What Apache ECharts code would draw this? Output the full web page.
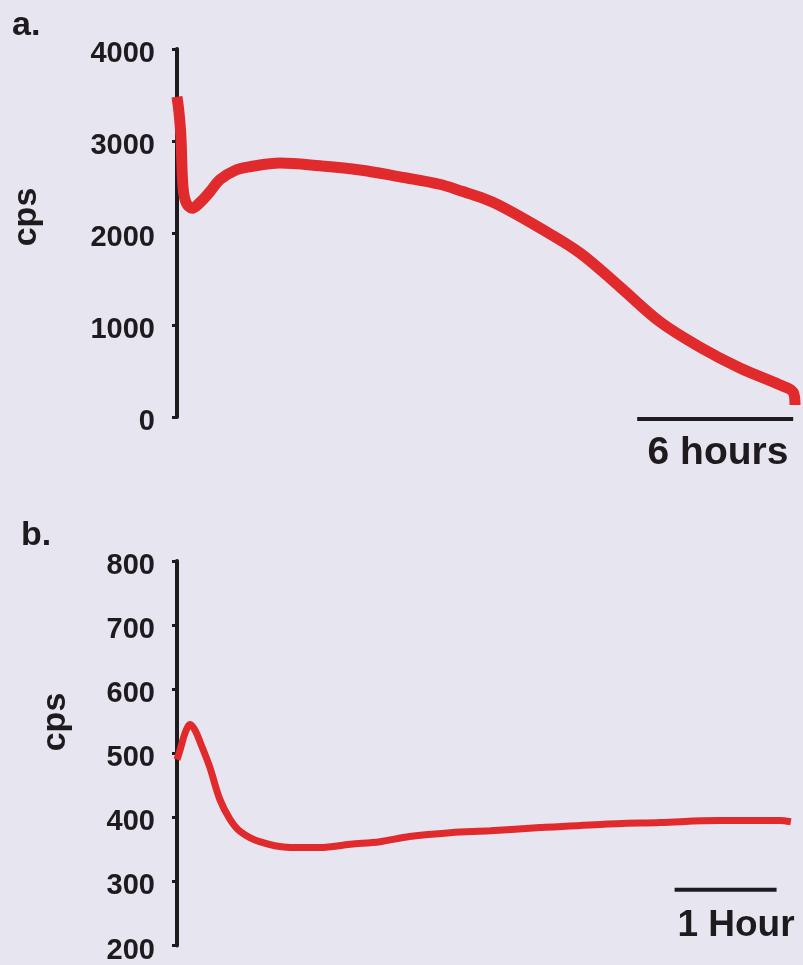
<!DOCTYPE html>
<html>
<head>
<meta charset="utf-8">
<script src="https://cdn.jsdelivr.net/npm/echarts@6/dist/echarts.min.js"></script>
<style>
  html, body { margin: 0; padding: 0; background: #e6e5f0; }
  #main { width: 803px; height: 965px; }
</style>
</head>
<body>
<div id="main"></div>
<script>
// panel a: ~24 h trace
var hoursA = [0, 0.08, 0.15, 0.23, 0.35, 0.58, 0.88, 1.27, 1.65, 2.23, 2.81, 3.96, 5.5, 7.04, 8.58, 10.1, 11.0, 11.65, 12.4, 13.96, 15.5, 17.04, 18.58, 20.1, 21.65, 23.2, 23.7, 23.77];
var cpsA = [3480, 3300, 3050, 2500, 2330, 2270, 2330, 2450, 2580, 2680, 2720, 2760, 2730, 2685, 2610, 2530, 2450, 2390, 2300, 2054, 1783, 1413, 1033, 761, 533, 348, 270, 130];
var ticksA = [0, 1000, 2000, 3000, 4000];

// panel b: ~6 h trace
var hoursB = [0, 0.03, 0.08, 0.13, 0.18, 0.23, 0.32, 0.42, 0.52, 0.62, 0.81, 1.11, 1.40, 1.70, 1.99, 2.28, 2.68, 3.07, 3.56, 4.15, 4.74, 5.32, 5.91, 6.02];
var cpsB = [490, 505, 532, 545, 535, 516, 479, 428, 397, 378, 362, 353, 353, 358, 362, 370, 376, 379, 384, 389, 392, 395, 395, 393];
var ticksB = [200, 300, 400, 500, 600, 700, 800];

// scale bars [start, end] in hours and the level they sit at
var barA = [17.7, 23.7], barAy = -22;
var barB = [4.88, 5.88], barBy = 287;

var ink = '#1f1a1d';
var red = '#e12a2b';
var font = '"Liberation Sans", Arial, sans-serif';

function pairs(xs, ys) {
    return xs.map(function (x, i) { return [x, ys[i]]; });
}

function yAx(idx, min, max, step) {
    return {
        type: 'value', gridIndex: idx, min: min, max: max, interval: step,
        axisLine: { show: true, lineStyle: { color: ink, width: 4 } },
        axisTick: { show: true, inside: false, length: 5, lineStyle: { color: ink, width: 3 } },
        splitLine: { show: false },
        axisLabel: {
            margin: 22,
            formatter: function (v) { return '{v|' + v + '}'; },
            rich: {
                v: { color: ink, fontFamily: font, fontWeight: 'bold', fontSize: 29, padding: [10, 0, 0, 0] }
            }
        }
    };
}

var chart = echarts.init(document.getElementById('main'));
var option = {
    backgroundColor: '#e6e5f0',
    animation: false,
    grid: [
        { left: 177, top: 49, width: 624, height: 368 },
        { left: 177, top: 561, width: 622, height: 385 }
    ],
    xAxis: [
        { type: 'value', gridIndex: 0, min: 0, max: 24, show: false },
        { type: 'value', gridIndex: 1, min: 0, max: 6.1, show: false }
    ],
    yAxis: [
        yAx(0, ticksA[0], ticksA[ticksA.length - 1], 1000),
        yAx(1, ticksB[0], ticksB[ticksB.length - 1], 100)
    ],
    series: [
        {
            type: 'line', xAxisIndex: 0, yAxisIndex: 0, data: pairs(hoursA, cpsA),
            showSymbol: false, smooth: 0.35, clip: false,
            lineStyle: { color: red, width: 11 }
        },
        {
            type: 'line', xAxisIndex: 1, yAxisIndex: 1, data: pairs(hoursB, cpsB),
            showSymbol: false, smooth: 0.35, clip: false,
            lineStyle: { color: red, width: 7 }
        }
    ]
};
chart.setOption(option);

var a0 = chart.convertToPixel({ gridIndex: 0 }, [barA[0], barAy]);
var a1 = chart.convertToPixel({ gridIndex: 0 }, [barA[1], barAy]);
var b0 = chart.convertToPixel({ gridIndex: 1 }, [barB[0], barBy]);
var b1 = chart.convertToPixel({ gridIndex: 1 }, [barB[1], barBy]);

function txt(x, y, s, size, align, rot) {
    return {
        type: 'text', x: x, y: y, rotation: rot || 0,
        style: {
            text: s, fill: ink, font: 'bold ' + size + 'px ' + font,
            textAlign: align || 'left', textVerticalAlign: 'middle'
        }
    };
}

chart.setOption({
    graphic: [
        { type: 'line', shape: { x1: a0[0], y1: a0[1], x2: a1[0], y2: a1[1] }, style: { stroke: ink, lineWidth: 4 } },
        { type: 'line', shape: { x1: b0[0], y1: b0[1], x2: b1[0], y2: b1[1] }, style: { stroke: ink, lineWidth: 4 } },
        txt(718, 453, '6 hours', 39, 'center'),
        txt(736, 926, '1 Hour', 37, 'center'),
        txt(12, 26, 'a.', 34),
        txt(21, 536, 'b.', 34),
        txt(27, 217, 'cps', 34, 'center', Math.PI / 2),
        txt(56, 722, 'cps', 34, 'center', Math.PI / 2)
    ]
});
</script>
</body>
</html>
